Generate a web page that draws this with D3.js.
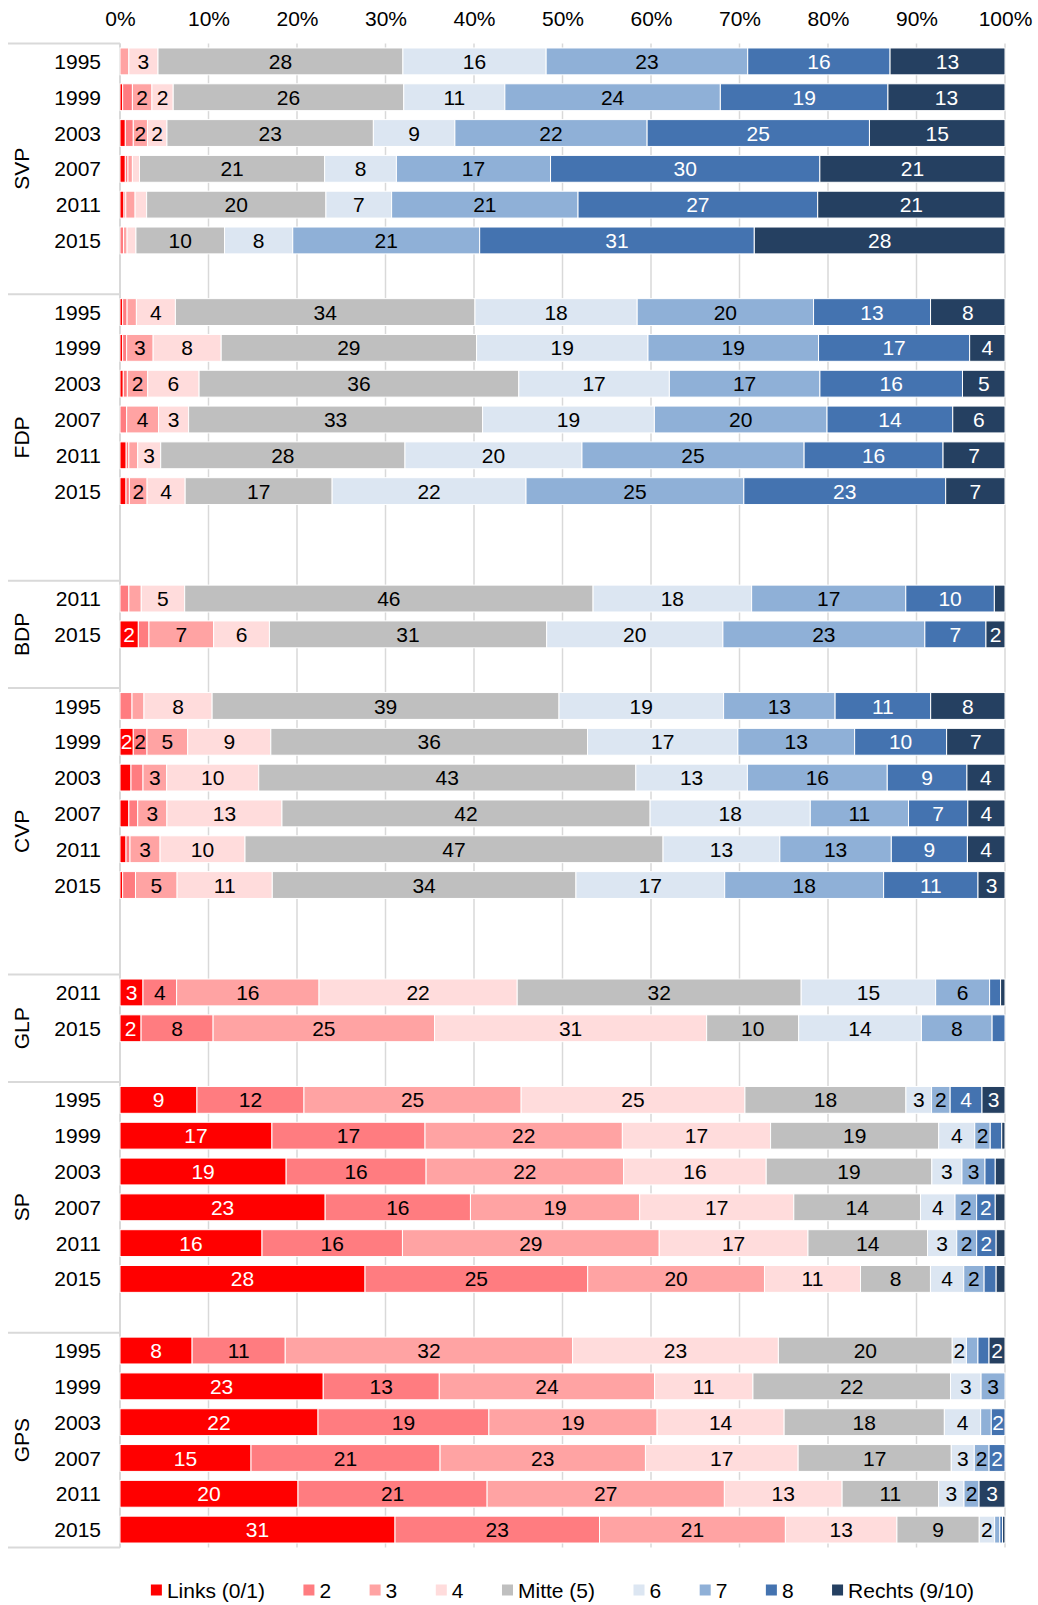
<!DOCTYPE html>
<html>
<head>
    <meta charset="UTF-8">
    <title>Links-Rechts Selbsteinstufung nach Partei</title>
</head>
<style>
    body {
        margin: 0;
        background: #fff;
    }

    svg {
        display: block;
        font-family: "Liberation Sans", Arial, sans-serif;
        font-size: 21px;
    }

    .grid line {
        stroke: #d9d9d9;
        stroke-width: 1.5px;
    }

    .sep {
        stroke: #d9d9d9;
        stroke-width: 2px;
    }
</style>
<body>

    <script src="https://cdn.jsdelivr.net/npm/d3@7"></script>
    <script>
        // Skala 0/1 .. 9/10, Anteile in Prozent pro Partei und Wahljahr
        var categories = ["Links (0/1)", "2", "3", "4", "Mitte (5)", "6", "7", "8", "Rechts (9/10)"];
        var colors = ["#ff0000", "#ff7c80", "#ffa3a3", "#ffdcdc", "#bfbfbf", "#dce6f2", "#8fb0d7", "#4473b0", "#254061"];
        var whiteText = [true, false, false, false, false, false, false, true, true];

        var parties = ["SVP", "FDP", "BDP", "CVP", "GLP", "SP", "GPS"];
        var blankRows = [1, 2, 1, 2, 1, 1, 0];   // leere Zeilen nach jeder Partei

        var allYears = ["1995", "1999", "2003", "2007", "2011", "2015"];
        var newYears = ["2011", "2015"];

        var svp = [
            [0, 0, 1.0, 3.3, 27.7, 16.2, 22.8, 16.1, 13.0],
            [0.3, 1.1, 2.2, 2.4, 26.0, 11.4, 24.3, 18.9, 13.2],
            [0.6, 0.9, 1.6, 2.2, 23.3, 9.2, 21.7, 25.1, 15.3],
            [0.6, 0.3, 0.5, 0.8, 20.9, 8.1, 17.4, 30.4, 20.9],
            [0.45, 0.2, 1.05, 1.3, 20.2, 7.4, 21.0, 27.0, 21.1],
            [0, 0.4, 0.4, 1.0, 10.0, 7.7, 21.1, 31.0, 28.3]
        ];
        var fdp = [
            [0.3, 0.5, 1.05, 4.4, 33.8, 18.3, 19.9, 13.2, 8.4],
            [0.3, 0.45, 3.0, 7.7, 28.9, 19.4, 19.3, 17.1, 4.0],
            [0.37, 0.46, 2.3, 5.8, 36.1, 17.0, 17.0, 16.1, 4.8],
            [0, 0.75, 3.6, 3.4, 33.2, 19.4, 19.5, 14.2, 5.9],
            [0.7, 0.3, 1.0, 2.6, 27.6, 20.0, 25.1, 15.7, 7.0],
            [0.68, 0.38, 2.0, 4.3, 16.6, 21.9, 24.6, 22.8, 6.7]
        ];
        var bdp = [
            [0, 1.0, 1.4, 4.9, 46.1, 17.9, 17.4, 10.0, 1.2],
            [2.07, 1.2, 7.3, 6.3, 31.3, 19.9, 22.8, 6.9, 2.15]
        ];
        var cvp = [
            [0, 1.36, 1.35, 7.7, 39.2, 18.6, 12.6, 10.8, 8.4],
            [1.5, 1.55, 4.6, 9.4, 35.8, 17.0, 13.2, 10.4, 6.6],
            [1.24, 1.36, 2.67, 10.4, 42.6, 12.6, 15.8, 9.0, 4.3],
            [1.0, 1.0, 3.3, 13.0, 41.6, 18.1, 11.1, 6.7, 4.2],
            [0.68, 0.45, 3.4, 9.6, 47.25, 13.2, 12.6, 8.6, 4.25],
            [0.3, 1.45, 4.7, 10.75, 34.3, 16.8, 17.95, 10.66, 3.05]
        ];
        var glp = [
            [2.6, 3.8, 16.1, 22.4, 32.1, 15.2, 6.1, 1.24, 0.5],
            [2.37, 8.1, 24.9, 30.6, 10.35, 13.8, 7.95, 1.45, 0]
        ];
        var sp = [
            [8.7, 12.1, 24.55, 25.3, 18.2, 2.9, 2.1, 3.6, 2.6],
            [17.17, 17.3, 22.3, 16.75, 19.0, 4.07, 1.75, 1.3, 0.37],
            [18.76, 15.8, 22.3, 16.1, 18.7, 3.4, 2.6, 1.16, 1.1],
            [23.16, 16.4, 19.1, 17.4, 14.3, 3.9, 2.44, 2.1, 1.1],
            [16.04, 15.86, 29.0, 16.8, 13.5, 3.3, 2.25, 2.2, 1.0],
            [27.68, 25.15, 19.97, 10.85, 7.9, 3.76, 2.3, 1.36, 1.0]
        ];
        var gps = [
            [8.13, 10.5, 32.4, 23.2, 19.6, 1.6, 1.3, 1.25, 1.8],
            [22.94, 13.1, 24.3, 11.1, 22.3, 3.45, 2.7, 0, 0],
            [22.37, 19.3, 19.0, 14.35, 18.1, 4.1, 1.2, 1.55, 0],
            [14.8, 21.36, 23.2, 17.25, 17.3, 2.6, 1.67, 1.8, 0],
            [20.11, 21.36, 26.8, 13.3, 10.9, 2.87, 1.7, 0, 2.93],
            [31.07, 23.1, 21.0, 12.6, 9.3, 1.74, 0.58, 0.31, 0.28]
        ];

        var partyYears = [allYears, allYears, newYears, allYears, newYears, allYears, allYears];
        var partyValues = [svp, fdp, bdp, cvp, glp, sp, gps];

        var width = 1038,
            height = 1605,
            plotTop = 43.5,
            plotBottom = 1547.5;

        // Zeilen aufbauen (inkl. Leerzeilen zwischen den Parteien)
        var rows = [];
        var groups = [];
        parties.forEach(function(p, gi) {
            var start = rows.length;
            partyYears[gi].forEach(function(yr, i) {
                rows.push({ key: p + yr, party: p, year: yr, values: partyValues[gi][i] });
            });
            for (var b = 0; b < blankRows[gi]; b++) {
                rows.push({ key: p + "-leer" + b, party: p, blank: true });
            }
            groups.push({ party: p, start: start, end: rows.length });
        });
        var bars = rows.filter(function(d) { return !d.blank; });

        var x = d3.scaleLinear()
            .domain([0, 1])
            .range([120, 1005]);

        var y = d3.scaleBand()
            .domain(rows.map(function(d) { return d.key; }))
            .range([plotTop, plotBottom])
            .paddingInner(0.25)
            .paddingOuter(0.125);

        var step = y.step();

        // 100%-Stapel
        var series = d3.stack()
            .keys(d3.range(categories.length))
            .value(function(d, k) { return d.values[k]; })
            .offset(d3.stackOffsetExpand)(bars);

        var svg = d3.select("body").append("svg")
            .attr("width", width)
            .attr("height", height);

        // Gitternetz
        svg.append("g")
            .attr("class", "grid")
            .selectAll("line")
            .data(x.ticks(10))
            .enter().append("line")
            .attr("x1", function(d) { return x(d); })
            .attr("x2", function(d) { return x(d); })
            .attr("y1", plotTop)
            .attr("y2", plotBottom);

        // Achse oben
        var axis = svg.append("g")
            .attr("transform", "translate(0,26)")
            .call(d3.axisTop(x).ticks(10).tickFormat(d3.format(".0%")).tickSize(0).tickPadding(0));
        axis.select(".domain").remove();
        axis.selectAll("text")
            .attr("fill", "#000")
            .style("font-size", "21px")
            .style("font-family", "'Liberation Sans', Arial, sans-serif");

        // Trennlinien links
        var bounds = groups.map(function(g) { return g.start; }).concat([rows.length]);
        svg.selectAll(".sep")
            .data(bounds)
            .enter().append("line")
            .attr("class", "sep")
            .attr("x1", 8)
            .attr("x2", 120)
            .attr("y1", function(d) { return plotTop + d * step; })
            .attr("y2", function(d) { return plotTop + d * step; });

        svg.append("line")
            .attr("class", "sep")
            .attr("x1", 120)
            .attr("x2", 120)
            .attr("y1", plotTop)
            .attr("y2", plotBottom);

        // Segmente
        var layer = svg.selectAll(".layer")
            .data(series)
            .enter().append("g")
            .attr("class", "layer")
            .attr("fill", function(d, i) { return colors[i]; });

        layer.selectAll("rect")
            .data(function(d) { return d.filter(function(p) { return p[1] - p[0] > 0; }); })
            .enter().append("rect")
            .attr("x", function(d) { return x(d[0]); })
            .attr("y", function(d) { return y(d.data.key); })
            .attr("width", function(d) { return x(d[1]) - x(d[0]); })
            .attr("height", y.bandwidth())
            .attr("stroke", "#fff")
            .attr("stroke-width", 1);

        // Beschriftungen der Segmente (nur ab 2%)
        series.forEach(function(s, k) {
            svg.append("g")
                .selectAll("text")
                .data(s.filter(function(p) { return p.data.values[k] >= 1.5; }))
                .enter().append("text")
                .attr("x", function(d) { return (x(d[0]) + x(d[1])) / 2; })
                .attr("y", function(d) { return y(d.data.key) + y.bandwidth() / 2; })
                .attr("dy", ".36em")
                .attr("text-anchor", "middle")
                .attr("fill", whiteText[k] ? "#fff" : "#000")
                .text(function(d) { return Math.round(d.data.values[k]); });
        });

        // Jahre
        svg.append("g")
            .selectAll("text")
            .data(bars)
            .enter().append("text")
            .attr("x", 101)
            .attr("y", function(d) { return y(d.key) + y.bandwidth() / 2; })
            .attr("dy", ".36em")
            .attr("text-anchor", "end")
            .text(function(d) { return d.year; });

        // Parteien (gedreht)
        svg.append("g")
            .selectAll("text")
            .data(groups)
            .enter().append("text")
            .attr("transform", function(d) {
                var c = plotTop + (d.start + d.end) / 2 * step;
                return "translate(21," + c + ") rotate(-90)";
            })
            .attr("dy", ".36em")
            .attr("text-anchor", "middle")
            .text(function(d) { return d.party; });

        // Legende
        var legend = svg.append("g")
            .attr("transform", "translate(0,1590)");

        var item = legend.selectAll("g")
            .data(categories)
            .enter().append("g");

        item.append("rect")
            .attr("y", -5.5)
            .attr("width", 11)
            .attr("height", 11)
            .attr("fill", function(d, i) { return colors[i]; });

        item.append("text")
            .attr("x", 16)
            .attr("dy", ".36em")
            .text(function(d) { return d; });

        var gap = 38.5;
        var pos = 0;
        var offsets = [];
        item.each(function() {
            offsets.push(pos);
            pos += 16 + d3.select(this).select("text").node().getComputedTextLength() + gap;
        });
        var total = pos - gap;
        var startX = (x(0) + x(1)) / 2 - total / 2;
        item.attr("transform", function(d, i) { return "translate(" + (startX + offsets[i]) + ",0)"; });
    </script>
</body>
</html>
